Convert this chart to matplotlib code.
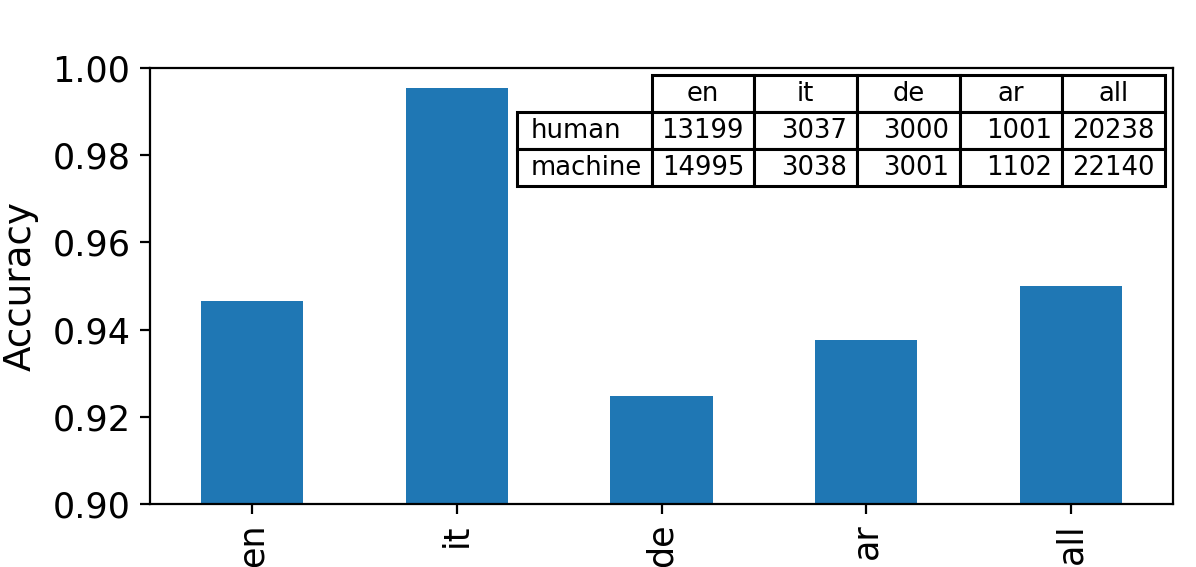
import matplotlib
matplotlib.use("Agg")
import matplotlib.pyplot as plt
from matplotlib.table import Table
import numpy as np

langs = ["en", "it", "de", "ar", "all"]
accuracy = [0.9466, 0.9954, 0.9248, 0.9376, 0.9500]

row_names = ["human", "machine"]
human_counts = [13199, 3037, 3000, 1001, 20238]
machine_counts = [14995, 3038, 3001, 1102, 22140]

fig = plt.figure(figsize=(5.98, 2.835), dpi=200)
ax = fig.add_axes([0.1254, 0.111, 0.8556, 0.769])

x = np.arange(len(langs))
ax.bar(x, accuracy, width=0.5, color="#1f77b4")
ax.set_xlim(-0.5, len(langs) - 0.5)
ax.set_ylim(0.90, 1.00)
yt = [0.90, 0.92, 0.94, 0.96, 0.98, 1.00]
ax.set_yticks(yt)
ax.set_yticklabels(["%.2f" % v for v in yt], fontsize=12.6)
ax.set_xticks(x)
ax.set_xticklabels(langs, rotation=90, fontsize=12.6)
ax.set_ylabel("Accuracy", fontsize=13.4, labelpad=5)

# counts table, top right inside the axes
tab = Table(ax, bbox=[0.3587, 0.729, 0.6334, 0.255])
w_lab, w_col, h = 1.31, 1.0, 1.0
for j, lang in enumerate(langs):
    tab.add_cell(0, j + 1, w_col, h, text=lang, loc="center")
for i, (name, counts) in enumerate(zip(row_names, [human_counts, machine_counts])):
    tab.add_cell(i + 1, 0, w_lab, h, text=name, loc="left")
    for j, v in enumerate(counts):
        tab.add_cell(i + 1, j + 1, w_col, h, text=str(v), loc="right")
tab.auto_set_font_size(False)
tab.set_fontsize(9.3)
for cell in tab.get_celld().values():
    cell.set_linewidth(1.1)
ax.add_table(tab)

fig.savefig("out.png", dpi=200)
